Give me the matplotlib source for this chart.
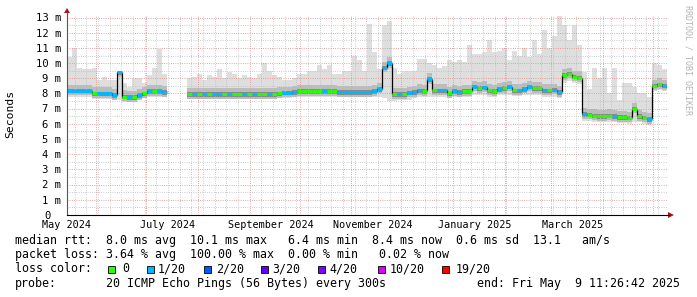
import matplotlib
matplotlib.use("Agg")
import matplotlib.pyplot as plt
import matplotlib.dates as mdates
from matplotlib.patches import Rectangle, Polygon
from matplotlib.lines import Line2D
import numpy as np
from datetime import datetime

nan = np.nan
W, H = 697, 297

# graph window, one value per 3 days
start = datetime(2024, 5, 14, 11, 26, 42)
end = datetime(2025, 5, 9, 11, 26, 42)
step = 3

median = [
    8.18, 8.18, 8.18, 8.18, 8.18, 8.0, 8.0, 8.0, 8.0, 7.9,
    9.4, 7.8, 7.75, 7.75, 7.9, 8.0, 8.15, 8.15, 8.15, 8.1,
    nan, nan, nan, nan, 7.95, 7.95, 7.95, 7.95, 7.95, 7.95,
    7.95, 7.95, 7.95, 7.95, 7.95, 7.95, 7.95, 7.95, 7.95, 7.95,
    7.95, 7.95, 8.0, 8.05, 8.05, 8.1, 8.15, 8.15, 8.15, 8.15,
    8.15, 8.15, 8.15, 8.15, 8.1, 8.1, 8.1, 8.1, 8.1, 8.1,
    8.1, 8.15, 8.3, 9.7, 10.0, 7.95, 7.95, 7.95, 8.05, 8.1,
    8.2, 8.15, 8.95, 8.2, 8.2, 8.2, 8.0, 8.15, 8.1, 8.15,
    8.15, 8.45, 8.35, 8.4, 8.2, 8.15, 8.3, 8.35, 8.45, 8.2,
    8.2, 8.3, 8.45, 8.35, 8.35, 8.2, 8.2, 8.25, 8.1, 9.2,
    9.3, 9.1, 9.05, 6.65, 6.6, 6.55, 6.5, 6.5, 6.55, 6.5,
    6.45, 6.45, 6.4, 7.0, 6.5, 6.4, 6.3, 8.5, 8.6, 8.5,
]

smoke_max = [
    10.4, 11.0, 9.7, 9.6, 9.6, 9.7, 8.9, 9.1, 8.9, 8.9,
    9.5, 8.7, 8.4, 9.0, 9.0, 8.7, 9.2, 9.7, 10.9, 9.3,
    nan, nan, nan, nan, 9.0, 9.1, 9.3, 8.9, 9.2, 9.1,
    9.6, 9.0, 9.4, 9.3, 9.0, 9.2, 9.1, 9.0, 9.3, 10.0,
    9.5, 9.2, 9.1, 8.9, 8.9, 9.0, 9.3, 9.3, 9.5, 9.5,
    9.9, 9.6, 9.9, 9.3, 9.3, 9.5, 9.5, 10.5, 10.2, 9.5,
    12.6, 10.7, 9.6, 12.5, 12.8, 9.7, 9.3, 9.5, 9.5, 9.5,
    10.3, 10.3, 10.0, 9.9, 9.7, 9.8, 10.2, 10.1, 10.2, 10.1,
    11.2, 10.6, 10.6, 10.7, 11.5, 10.7, 10.8, 11.0, 10.2, 10.8,
    10.5, 11.0, 10.4, 11.5, 10.6, 12.2, 11.0, 11.8, 13.1, 12.5,
    11.5, 12.5, 11.2, 9.4, 8.3, 9.65, 9.0, 9.65, 8.0, 9.65,
    7.6, 8.7, 8.7, 8.4, 8.0, 8.0, 7.8, 10.0, 9.9, 9.6,
]

smoke_min = [
    7.8, 7.8, 7.8, 7.8, 7.8, 7.65, 7.65, 7.65, 7.65, 7.6,
    7.6, 7.45, 7.45, 7.45, 7.55, 7.7, 7.75, 7.75, 7.75, 7.75,
    nan, nan, nan, nan, 7.65, 7.65, 7.65, 7.65, 7.65, 7.65,
    7.65, 7.65, 7.65, 7.65, 7.65, 7.65, 7.65, 7.65, 7.65, 7.65,
    7.65, 7.65, 7.7, 7.7, 7.7, 7.75, 7.75, 7.75, 7.75, 7.75,
    7.75, 7.75, 7.75, 7.75, 7.75, 7.75, 7.75, 7.75, 7.75, 7.75,
    7.75, 7.75, 7.8, 7.7, 7.5, 7.5, 7.55, 7.55, 7.6, 7.7,
    7.8, 7.75, 7.8, 7.75, 7.75, 7.75, 7.7, 7.75, 7.75, 7.75,
    7.75, 7.9, 7.9, 7.9, 7.8, 7.8, 7.9, 7.9, 7.9, 7.85,
    7.85, 7.9, 7.9, 7.9, 7.9, 7.8, 7.8, 7.8, 7.7, 8.7,
    8.8, 8.7, 8.6, 6.2, 6.2, 6.15, 6.1, 6.1, 6.15, 6.1,
    6.05, 6.05, 6.0, 6.1, 6.1, 6.0, 5.95, 8.15, 8.2, 8.15,
]

# lost pings out of 20
loss = [
    1, 1, 1, 1, 1, 0, 1, 1, 1, 1,
    1, 0, 1, 0, 1, 0, 1, 0, 1, 1,
    0, 0, 0, 0, 0, 1, 0, 1, 0, 1,
    1, 0, 1, 0, 0, 1, 0, 1, 0, 0,
    1, 0, 0, 1, 1, 1, 0, 0, 0, 0,
    0, 1, 0, 0, 1, 1, 1, 1, 1, 1,
    1, 1, 1, 1, 1, 0, 1, 0, 1, 1,
    1, 0, 1, 0, 1, 1, 0, 1, 1, 0,
    0, 1, 0, 1, 0, 0, 1, 0, 1, 0,
    1, 1, 1, 0, 0, 1, 0, 1, 1, 0,
    0, 0, 0, 1, 0, 0, 0, 0, 0, 1,
    0, 0, 0, 0, 0, 0, 1, 0, 0, 1,
]

loss_colors = {0: "#26ff00", 1: "#00b8ff", 2: "#0059ff", 3: "#5e00ff",
               4: "#7e00ff", 10: "#dd00ff", 19: "#ff0000"}
legend_keys = [0, 1, 2, 3, 4, 10, 19]
legend_labels = ["0", "1/20", "2/20", "3/20", "4/20", "10/20", "19/20"]
legend_box_x = [108, 147, 204, 261, 318, 378, 442]
legend_text_x = [122, 158, 216, 272, 329, 390, 456]

month_labels = ["May 2024", "July 2024", "September 2024",
                "November 2024", "January 2025", "March 2025"]
month_label_dates = [datetime(2024, 5, 14), datetime(2024, 7, 14), datetime(2024, 9, 14),
                     datetime(2024, 11, 14), datetime(2025, 1, 14), datetime(2025, 3, 14)]

y_ticks = list(range(0, 14))

line1 = "median rtt:  8.0 ms avg  10.1 ms max   6.4 ms min  8.4 ms now  0.6 ms sd  13.1   am/s"
line2 = "packet loss: 3.64 % avg  100.00 % max  0.00 % min   0.02 % now"
probe = "20 ICMP Echo Pings (56 Bytes) every 300s"
end_text = "end: Fri May  9 11:26:42 2025"

MONO = "DejaVu Sans Mono"
plt.rcParams["font.family"] = MONO


def fx(x):
    return x / W


def fy(y):
    return 1 - y / H


fig = plt.figure(figsize=(W / 100, H / 100), dpi=100)
fig.patch.set_facecolor("white")
ax = fig.add_axes([fx(67), fy(215), 600 / W, 200 / H])

med = np.array(median, dtype=float)
hi = np.array(smoke_max, dtype=float)
lo = np.array(smoke_min, dtype=float)
ls = np.array(loss)
xs = mdates.date2num(start) + step * np.arange(len(med))
ok = ~np.isnan(med)

# smoke: light full range, darker close to the median
ax.bar(xs[ok], hi[ok] - lo[ok], width=step, bottom=lo[ok], align="edge",
       color="#dedede", linewidth=0, zorder=1)
mid_lo = np.maximum(lo, med - 0.3)
mid_hi = np.minimum(hi, med + 0.4)
ax.bar(xs[ok], mid_hi[ok] - mid_lo[ok], width=step, bottom=mid_lo[ok], align="edge",
       color="#bcbcbc", linewidth=0, zorder=1.1)
dk_lo = np.maximum(lo, med - 0.17)
dk_hi = np.minimum(hi, med + 0.12)
ax.bar(xs[ok], dk_hi[ok] - dk_lo[ok], width=step, bottom=dk_lo[ok], align="edge",
       color="#8a8a8a", linewidth=0, zorder=1.2)

# median: black joins, coloured by loss
for k in range(len(med) - 1):
    if ok[k] and ok[k + 1] and med[k] != med[k + 1]:
        ax.vlines(xs[k + 1], min(med[k], med[k + 1]), max(med[k], med[k + 1]),
                  color="black", lw=0.9, zorder=3)
ax.hlines(med[ok], xs[ok], xs[ok] + step, colors=[loss_colors[v] for v in ls[ok]],
          lw=2.2, capstyle="butt", zorder=4)

ax.set_xlim(mdates.date2num(start), mdates.date2num(end))
ax.set_ylim(0, 200 / 15.19)

ax.xaxis.set_major_locator(mdates.MonthLocator())
ax.xaxis.set_minor_locator(mdates.WeekdayLocator(byweekday=mdates.SU))
ax.yaxis.set_major_locator(plt.MultipleLocator(1))
ax.yaxis.set_minor_locator(plt.MultipleLocator(0.5))
ax.grid(which="minor", color="#c0c0c0", lw=0.72, linestyle=(0, (0.75, 1.5)))
ax.grid(which="major", color="#e09090", lw=0.72, linestyle=(0, (0.75, 1.5)))
ax.set_axisbelow(False)
ax.tick_params(which="both", length=0, labelbottom=False, labelleft=False)
for s in ax.spines.values():
    s.set_visible(False)

# axis labels
for lab, d in zip(month_labels, month_label_dates):
    ax.text(mdates.date2num(d), -13 / 200, lab, transform=ax.get_xaxis_transform(),
            ha="center", va="baseline", fontsize=7.3, color="black")
for v in y_ticks:
    lab = f"{v} m" if v else "0"
    xpos = -6 / 600 if v else -16 / 600
    ax.text(xpos, v - 3.8 / 15.19, lab, transform=ax.get_yaxis_transform(),
            ha="right", va="baseline", fontsize=7.6, color="black")

fig.text(fx(10), fy(114), "Seconds", rotation=90, ha="center", va="center", fontsize=8.2)
fig.text(fx(688), fy(60), "RRDTOOL / TOBI OETIKER", rotation=270, ha="center",
         va="center", fontsize=6, color="#b4b4b4")

# axis lines and arrows
fig.add_artist(Line2D([fx(67), fx(67)], [fy(215), fy(12)], color="#555555", lw=0.8))
fig.add_artist(Line2D([fx(67), fx(669)], [fy(215), fy(215)], color="black", lw=0.8))
fig.add_artist(Polygon([[fx(64), fy(13)], [fx(70), fy(13)], [fx(67), fy(8)]],
                       closed=True, color="#a01818", lw=0))
fig.add_artist(Polygon([[fx(668), fy(212)], [fx(668), fy(218)], [fx(674), fy(215)]],
                       closed=True, color="#a01818", lw=0))

# legend
fs = 8.4
fig.text(fx(15), fy(244), line1, ha="left", va="baseline", fontsize=fs)
fig.text(fx(15), fy(258.3), line2, ha="left", va="baseline", fontsize=fs)
fig.text(fx(15), fy(272.3), "loss color:", ha="left", va="baseline", fontsize=fs)
for key, lab, bx, tx in zip(legend_keys, legend_labels, legend_box_x, legend_text_x):
    fig.add_artist(Rectangle((fx(bx), fy(273)), 7 / W, 7 / H, facecolor=loss_colors[key],
                             edgecolor="black", lw=0.6))
    fig.text(fx(tx), fy(272.3), lab, ha="left", va="baseline", fontsize=fs)
fig.text(fx(15), fy(286.6), "probe:", ha="left", va="baseline", fontsize=fs)
fig.text(fx(106), fy(286.6), probe, ha="left", va="baseline", fontsize=fs)
fig.text(fx(477), fy(286.6), end_text, ha="left", va="baseline", fontsize=fs)

fig.savefig("out.png", dpi=100)
